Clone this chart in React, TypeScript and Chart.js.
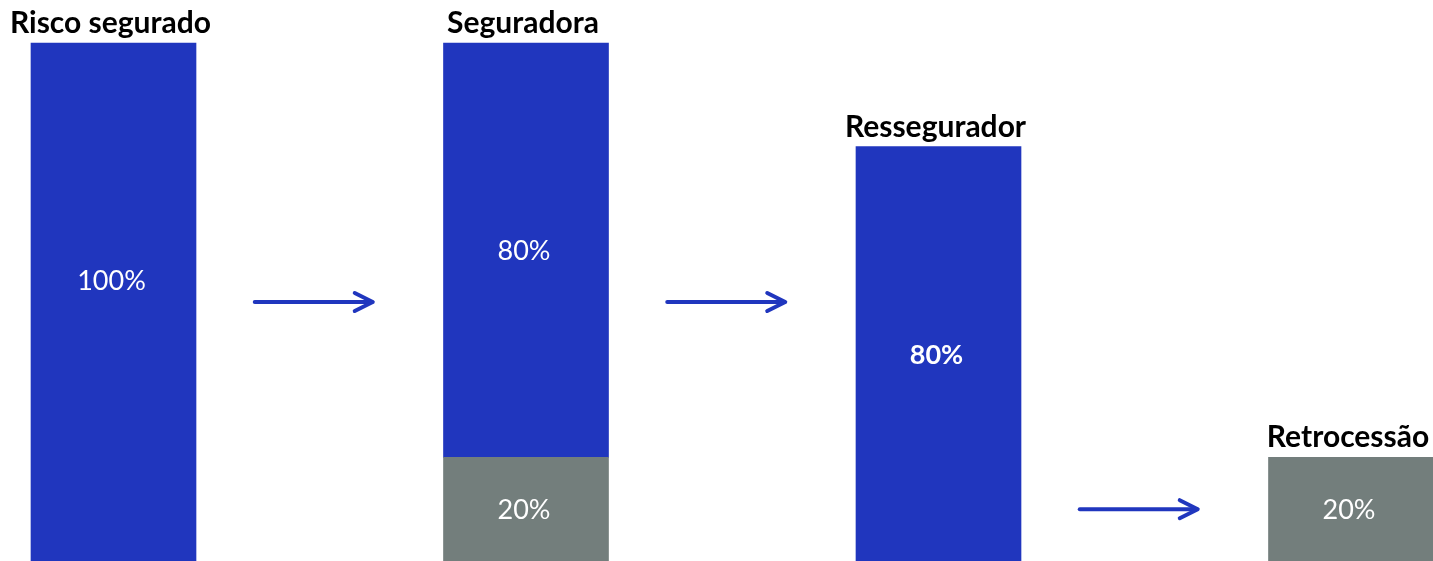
import React, { useEffect, useRef } from "react";
import { Chart, registerables } from "chart.js";

Chart.register(...registerables);

const categories = ["Risco segurado", "Seguradora", "Ressegurador", "Retrocessão"];
const retained = [null, 20, null, 20]; // gray (bottom)
const ceded = [100, 80, 80, null]; // blue (top)
const boldLabelIndex = 2;
const arrowLevels = [50, 50, 10];

const BLUE = "#2036BE";
const GRAY = "#737E7C";
const FONT = "Lato, 'Open Sans', sans-serif";

const overlay = {
  id: "overlay",
  afterDatasetsDraw(chart: any) {
    const ctx = chart.ctx;
    const x = chart.scales.x;
    const y = chart.scales.y;
    ctx.save();
    // value labels
    chart.data.datasets.forEach((ds: any, di: number) => {
      const meta = chart.getDatasetMeta(di);
      meta.data.forEach((bar: any, i: number) => {
        const v = ds.data[i];
        if (v == null) return;
        const bold = di === 1 && i === boldLabelIndex;
        ctx.font = `${bold ? "bold " : ""}27px ${FONT}`;
        ctx.fillStyle = "#ffffff";
        ctx.textAlign = "center";
        ctx.textBaseline = "middle";
        let cy = (bar.y + bar.base) / 2 + 1;
        if (v === 100) cy = y.getPixelForValue(54);
        ctx.fillText(`${v}%`, bar.x - 2, cy);
      });
    });
    // titles
    categories.forEach((c, i) => {
      const total = (retained[i] ?? 0) + (ceded[i] ?? 0);
      const top = y.getPixelForValue(total);
      ctx.font = `bold 30px ${FONT}`;
      ctx.fillStyle = "#000000";
      ctx.textAlign = "center";
      ctx.textBaseline = "alphabetic";
      ctx.fillText(c, x.getPixelForValue(i) - 3, top - 10);
    });
    // arrows
    arrowLevels.forEach((lvl, i) => {
      const cx = x.getPixelForValue(i + 0.5) - 6;
      const ay = y.getPixelForValue(lvl);
      const x0 = cx - 59;
      const x1 = cx + 59;
      ctx.strokeStyle = BLUE;
      ctx.lineWidth = 4;
      ctx.lineCap = "round";
      ctx.lineJoin = "round";
      ctx.beginPath();
      ctx.moveTo(x0, ay);
      ctx.lineTo(x1 - 1, ay);
      ctx.stroke();
      ctx.beginPath();
      ctx.moveTo(x1 - 18, ay - 9);
      ctx.lineTo(x1, ay);
      ctx.lineTo(x1 - 18, ay + 9);
      ctx.stroke();
    });
    ctx.restore();
  },
};

export default function App() {
  const ref = useRef<HTMLCanvasElement>(null);
  useEffect(() => {
    document.body.style.margin = "0";
    document.body.style.overflow = "hidden";
    const chart = new Chart(ref.current!, {
      type: "bar",
      data: {
        labels: categories,
        datasets: [
          { label: "Retido", data: retained as any, backgroundColor: GRAY, barThickness: 165, clip: false as any },
          { label: "Cedido", data: ceded as any, backgroundColor: BLUE, barThickness: 165, clip: false as any },
        ],
      },
      options: {
        responsive: false,
        animation: false,
        layout: { padding: { top: 43, left: 113.5, right: 82, bottom: 0 } },
        plugins: { legend: { display: false }, tooltip: { enabled: false }, title: { display: false } },
        scales: {
          x: { stacked: true, offset: false, display: false, grid: { display: false } },
          y: { stacked: true, min: 0, max: 100, display: false, grid: { display: false } },
        },
      },
      plugins: [overlay],
    });
    return () => chart.destroy();
  }, []);
  return (
    <canvas
      ref={ref}
      width={1433}
      height={561}
      style={{ position: "fixed", left: 0, top: 0, width: 1433, height: 561, display: "block" }}
    />
  );
}
